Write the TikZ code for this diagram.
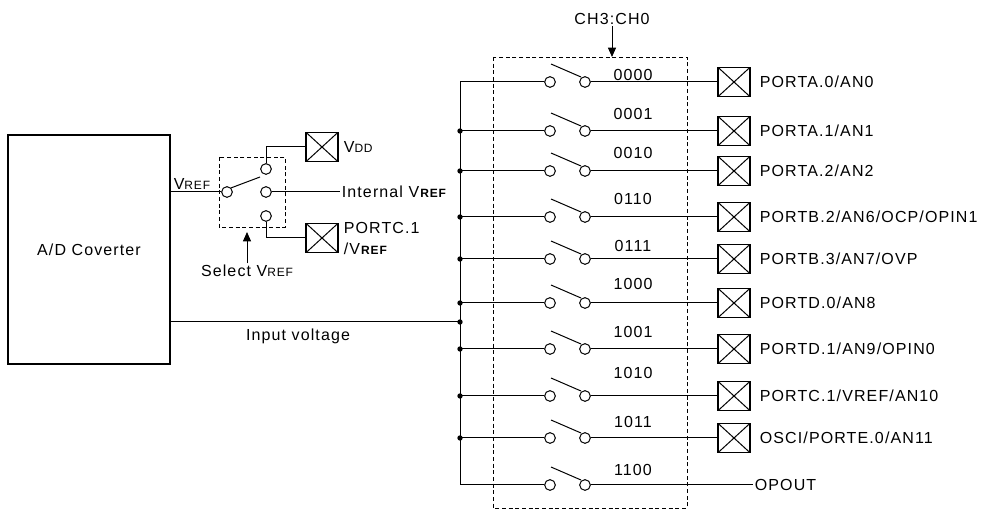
\documentclass[tikz,border=0pt]{standalone}
\usepackage{fontspec}
\setmainfont{Liberation Sans}[LetterSpace=7]
\usetikzlibrary{arrows.meta}
\newcommand{\sref}[1]{{\fontsize{9}{10}\selectfont #1}}

\begin{document}
\begin{tikzpicture}[x=0.75pt,y=-0.75pt,line width=0.75pt]

                \tikzstyle{contact} = [circle, draw, minimum size=8pt, inner sep=0pt, fill=white]
                \tikzstyle{pin}     = [draw, line width=1.1pt, minimum width=24pt, minimum height=22pt, inner sep=0pt,
                                       path picture={\draw[line width=0.75pt] (path picture bounding box.north west) -- (path picture bounding box.south east)
                                       (path picture bounding box.south west) -- (path picture bounding box.north east);}]
                \tikzstyle{dot}     = [circle, fill, minimum size=4pt, inner sep=0pt]
                \tikzstyle{txt}     = [font=\fontsize{12}{15.75}\selectfont, inner sep=1pt]
                \tikzstyle{frame}   = [dash pattern=on 3pt off 2pt, line width=0.6pt]
                \useasboundingbox (0,0) rectangle (983,509);

                % A/D converter and reference select
                \node [draw, line width=1.1pt, minimum width=121.5pt, minimum height=171.75pt, txt](ad) at (89, 249.5) {A/D Coverter};
                \node [contact](com) at (227, 192) {};
                \node [contact](s1) at (266, 169) {};
                \node [contact](s2) at (266, 192) {};
                \node [contact](s3) at (266, 216) {};
                \draw (com.north east) -- (260, 177);
                \draw (ad.east |- com) -- (com);
                \node [txt, anchor=south] at (192, 191) {V\sref{REF}};
                \node [pin](vdd) at (322, 147) {};
                \node [txt, anchor=west] at (342, 147) {V\sref{DD}};
                \draw (s1.north) |- (vdd.west);
                \node [txt, anchor=west](intref) at (340, 192) {Internal V\sref{\textbf{REF}}};
                \draw (s2.east) -- (intref.west);
                \node [pin](pc) at (322, 238) {};
                \node [txt, anchor=west, align=left] at (342, 238) {PORTC.1\\/V\sref{\textbf{REF}}};
                \draw (s3.south) |- (pc.west);
                \draw [frame] (219, 157) rectangle (285, 227);
                \node [txt](sel) at (247, 271) {Select V\sref{REF}};
                \coordinate (selbox) at (247, 232);
                \draw [-{Triangle[length=7pt, width=6pt]}] (sel.north) -- (selbox);

                % analog channel mux
                \draw [frame] (493, 57) rectangle (687, 508);
                \node [txt](ch) at (612, 19) {CH3:CH0};
                \coordinate (muxtop) at (612, 57);
                \draw [-{Triangle[length=7pt, width=6pt]}] (ch.south) -- (muxtop);

                \foreach \y/\ly/\code/\pinname [count=\i] in {82/75/0000/{PORTA.0/AN0}, 131/114/0001/{PORTA.1/AN1},
                        171/153/0010/{PORTA.2/AN2}, 217/199/0110/{PORTB.2/AN6/OCP/OPIN1}, 259/246/0111/{PORTB.3/AN7/OVP},
                        303/284/1000/{PORTD.0/AN8}, 349/332/1001/{PORTD.1/AN9/OPIN0}, 396/373/1010/{PORTC.1/VREF/AN10},
                        438/422/1011/{OSCI/PORTE.0/AN11}}{
                    \coordinate (bus\i) at (460, \y);
                    \node [contact](a\i) at (550, \y) {};
                    \node [contact](b\i) at (585, \y) {};
                    \draw (551, {\y - 18}) -- (581, {\y - 5});
                    \node [txt] at (633, \ly) {\code};
                    \node [pin](x\i) at (734, \y) {};
                    \node [txt, anchor=west] at (758, \y) {\pinname};
                    \draw (bus\i) -- (a\i);
                    \draw (b\i) -- (x\i);
                    \ifnum\i>1 \node [dot] at (bus\i) {}; \fi
                }

                \coordinate (bus10) at (460, 485);
                \node [contact](a10) at (550, 485) {};
                \node [contact](b10) at (585, 485) {};
                \draw (551, 467) -- (581, 480);
                \node [txt] at (633, 470) {1100};
                \node [txt, anchor=west](opout) at (753, 485) {OPOUT};
                \draw (bus10) -- (a10);
                \draw (b10) -- (opout.west);
                \draw (bus1) -- (bus10);

                % input voltage
                \coordinate (busin) at (460, 322);
                \node [dot] at (busin) {};
                \draw (ad.east |- busin) -- (busin);
                \node [txt] at (298, 336) {Input voltage};
\end{tikzpicture}
\end{document}
